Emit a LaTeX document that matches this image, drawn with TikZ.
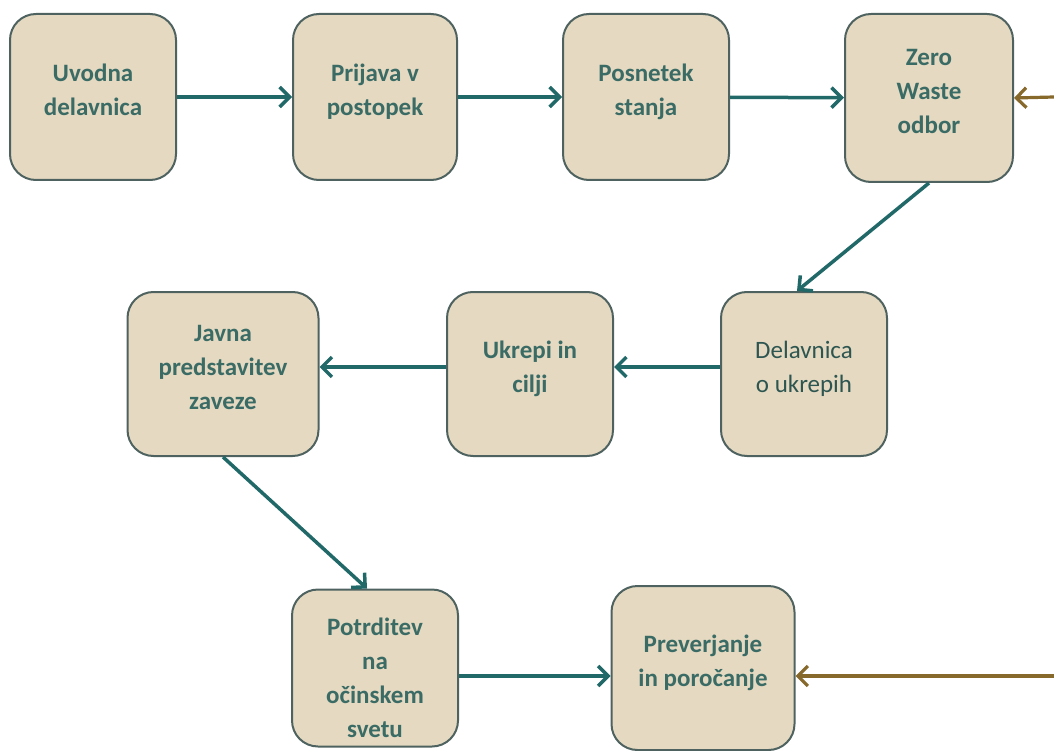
\documentclass[tikz,border=0pt]{standalone}
\usepackage{fontspec}
\setmainfont{Carlito}
\usetikzlibrary{arrows.meta}
\usetikzlibrary{positioning}

\definecolor{boxfill}{HTML}{E5D9C1}
\definecolor{boxline}{HTML}{4E625F}
\definecolor{boxtext}{HTML}{3A6B65}
\definecolor{flowteal}{HTML}{216868}
\definecolor{feedbrown}{HTML}{86692B}

\begin{document}
\begin{tikzpicture}[x=1pt,y=-1pt,>={Straight Barb[length=10pt,width=20pt]},
    stage/.style={draw=boxline, line width=2pt, fill=boxfill, rounded corners=26pt,
      minimum width=166pt, minimum height=166pt, align=center, text=boxtext,
      font=\fontsize{25}{34}\selectfont\bfseries, text depth=14pt},
    flow/.style={->, draw=flowteal, line width=3.5pt},
    feed/.style={->, draw=feedbrown, line width=3.2pt}]
    \useasboundingbox (0,0) rectangle (1054,751);

    % first row
    \node[stage] (uvodna) at (93,97) {Uvodna\\delavnica};
    \node[stage, minimum width=164pt] (prijava) at (375,97) {Prijava v\\postopek};
    \node[stage] (posnetek) at (646,97) {Posnetek\\stanja};
    \node[stage, minimum width=168pt, minimum height=168pt] (zerowaste) at (929,98) {Zero\\Waste\\odbor};

    % second row
    \node[stage, minimum height=164pt, font=\fontsize{25}{34}\selectfont, text=boxtext!80!black] (delavnica) at (804,374) {Delavnica\\o ukrepih};
    \node[stage, minimum height=164pt] (ukrepi) at (530,374) {Ukrepi in\\cilji};
    \node[stage, minimum width=191pt, minimum height=164pt] (javna) at (223,374) {Javna\\predstavitev\\zaveze};

    % third row
    \node[stage, minimum height=157pt, text depth=0pt] (potrditev) at (375,668) {\rule{0pt}{37pt}Potrditev\\na\\očinskem\\svetu};
    \node[stage, minimum width=183pt, minimum height=164pt] (preverjanje) at (703,668) {Preverjanje\\in poročanje};

    \coordinate (feedtop) at (1054,97);
    \coordinate (feedbottom) at (1054,676);

    \draw[flow] (uvodna) -- (prijava);
    \draw[flow] (prijava) -- (posnetek);
    \draw[flow] (posnetek) -- (zerowaste);
    \draw[flow] (zerowaste.south) -- ([xshift=-7pt]delavnica.north);
    \draw[flow] ([yshift=7pt]delavnica.west) -- ([yshift=7pt]ukrepi.east);
    \draw[flow] ([yshift=7pt]ukrepi.west) -- ([yshift=7pt]javna.east);
    \draw[flow] (javna.south) -- ([xshift=-8pt]potrditev.north);
    \draw[flow] ([yshift=-8pt]potrditev.east) -- ([yshift=-8pt]preverjanje.west);
    \draw[feed] (feedtop) -- (zerowaste.east);
    \draw[feed] (feedbottom) -- ([yshift=-8pt]preverjanje.east);
\end{tikzpicture}
\end{document}
